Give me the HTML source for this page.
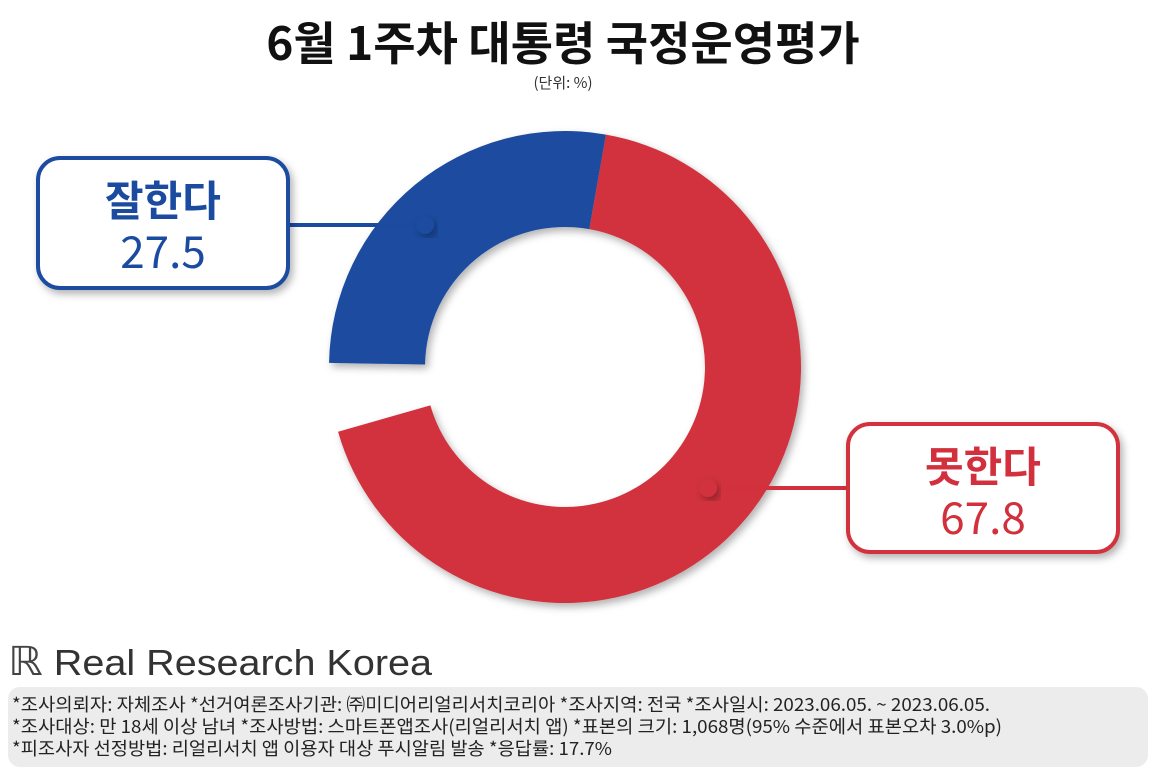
<!DOCTYPE html>
<html><head><meta charset="utf-8"><style>
body{margin:0;width:1152px;height:771px;background:#fff;overflow:hidden;font-family:"Liberation Sans","Noto Sans CJK KR",sans-serif;}
svg{position:absolute;left:0;top:0}
</style></head><body>
<svg width="1152" height="771">
<defs><filter id="sh" x="-20%" y="-20%" width="140%" height="140%"><feDropShadow dx="3" dy="4" stdDeviation="4" flood-color="#000" flood-opacity="0.3"/></filter></defs>
<text x="563" y="60" text-anchor="middle" font-size="46" font-weight="bold" fill="#111" font-family="'Noto Sans CJK KR',sans-serif">6월 1주차 대통령 국정운영평가</text>
<text x="563" y="88" text-anchor="middle" font-size="15" fill="#333" font-family="'Noto Sans CJK KR',sans-serif">(단위: %)</text>
<g id="slices" filter="url(#sh)"></g>
<g id="labels"></g>
<text x="8" y="675" font-size="36" fill="#333" font-family="'Liberation Sans',sans-serif" textLength="424" lengthAdjust="spacingAndGlyphs"><tspan font-size="40" fill="#444">ℝ</tspan> Real Research Korea</text>
<rect x="8" y="687" width="1140" height="80" rx="12" fill="#ececec"/>
<g font-size="18" fill="#222" font-family="'Noto Sans CJK KR',sans-serif">
<text x="12" y="711" textLength="978" lengthAdjust="spacingAndGlyphs">*조사의뢰자: 자체조사 *선거여론조사기관: ㈜미디어리얼리서치코리아 *조사지역: 전국 *조사일시: 2023.06.05. ~ 2023.06.05.</text>
<text x="12" y="733" textLength="990" lengthAdjust="spacingAndGlyphs">*조사대상: 만 18세 이상 남녀 *조사방법: 스마트폰앱조사(리얼리서치 앱) *표본의 크기: 1,068명(95% 수준에서 표본오차 3.0%p)</text>
<text x="12" y="755" textLength="600" lengthAdjust="spacingAndGlyphs">*피조사자 선정방법: 리얼리서치 앱 이용자 대상 푸시알림 발송 *응답률: 17.7%</text>
</g>
</svg>
<script>
const categories=["잘한다","못한다"];
const values=[27.5,67.8];
const colors=["#1a4ba0","#d1303c"];
const cx=565,cy=367,R=236,r=140,start=10;
const NS="http://www.w3.org/2000/svg";
const g=document.getElementById('slices'),lg=document.getElementById('labels');
function pt(a,rad){const t=(a-90)*Math.PI/180;return[cx+rad*Math.cos(t),cy+rad*Math.sin(t)];}
function arc(a0,a1){const L=(a1-a0)>180?1:0;const p0=pt(a0,R),p1=pt(a1,R),q1=pt(a1,r),q0=pt(a0,r);
return `M${p0}A${R},${R} 0 ${L} 1 ${p1}L${q1}A${r},${r} 0 ${L} 0 ${q0}Z`;}
const spans=[[start-values[0]*3.6,start],[start,start+values[1]*3.6]];
spans.forEach((s,i)=>{const p=document.createElementNS(NS,'path');p.setAttribute('d',arc(s[0],s[1]));p.setAttribute('fill',colors[i]);


g.appendChild(p);});
const boxes=[{x:38,y:158,w:250,h:130},{x:848,y:424,w:270,h:128}];
boxes.forEach((b,i)=>{const c=colors[i];
const dot=i?[708,488]:[425,225];
const line=document.createElementNS(NS,'line');
line.setAttribute('x1',i?dot[0]:b.x+b.w);line.setAttribute('y1',dot[1]);line.setAttribute('x2',i?b.x:dot[0]);line.setAttribute('y2',dot[1]);
line.setAttribute('stroke',c);line.setAttribute('stroke-width',4);


lg.appendChild(line);
const d=document.createElementNS(NS,'circle');d.setAttribute('cx',dot[0]);d.setAttribute('cy',dot[1]);d.setAttribute('r',9);d.setAttribute('fill',c);d.setAttribute('filter','url(#sh)');


lg.appendChild(d);
const rc=document.createElementNS(NS,'rect');rc.setAttribute('x',b.x);rc.setAttribute('y',b.y);rc.setAttribute('width',b.w);rc.setAttribute('height',b.h);rc.setAttribute('rx',22);rc.setAttribute('fill','#fff');rc.setAttribute('stroke',c);rc.setAttribute('stroke-width',4);rc.setAttribute('filter','url(#sh)');


lg.appendChild(rc);
const t1=document.createElementNS(NS,'text');t1.setAttribute('x',b.x+b.w/2);t1.setAttribute('y',b.y+58);t1.setAttribute('text-anchor','middle');t1.setAttribute('font-size',42);t1.setAttribute('font-weight','bold');t1.setAttribute('fill',c);t1.setAttribute('font-family',"'Noto Sans CJK KR',sans-serif");t1.textContent=categories[i];


lg.appendChild(t1);
const t2=document.createElementNS(NS,'text');t2.setAttribute('x',b.x+b.w/2);t2.setAttribute('y',b.y+110);t2.setAttribute('text-anchor','middle');t2.setAttribute('font-size',44);t2.setAttribute('fill',c);t2.setAttribute('font-family',"'Noto Sans CJK KR',sans-serif");t2.textContent=values[i].toFixed(1);


lg.appendChild(t2);});
</script>
</body></html>
